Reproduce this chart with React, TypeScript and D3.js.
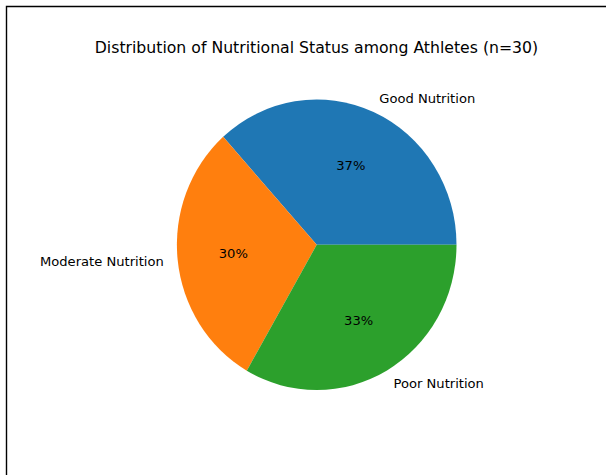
import React from "react";
import * as d3 from "d3";

const categories = ["Good Nutrition", "Moderate Nutrition", "Poor Nutrition"];
const counts = [11, 9, 10];
const colors = ["#1f77b4", "#ff7f0e", "#2ca02c"];
const title = "Distribution of Nutritional Status among Athletes (n=30)";

const W = 606;
const H = 475;
const cx = 316.7;
const cy = 244.8;
const rx = 139.8;
const ry = 145.3;
const font = "'DejaVu Sans', sans-serif";

export default function App() {
  const total = d3.sum(counts);
  // matplotlib style: start at 3 o'clock, go counterclockwise
  const toRad = d3.scaleLinear().domain([0, total]).range([0, 2 * Math.PI]);

  let acc = 0;
  const slices = counts.map((v, i) => {
    const a0 = toRad(acc);
    acc += v;
    const a1 = toRad(acc);
    return { v, i, a0, a1, mid: (a0 + a1) / 2 };
  });

  // d3 angles run clockwise from 12 o'clock, so flip them
  const arcGen = d3.arc<{ a0: number; a1: number }>()
    .innerRadius(0)
    .outerRadius(rx)
    .startAngle((d) => Math.PI / 2 - d.a1)
    .endAngle((d) => Math.PI / 2 - d.a0);

  const pos = (ang: number, f: number) => [
    cx + f * rx * Math.cos(ang),
    cy - f * ry * Math.sin(ang),
  ];

  return (
    <svg
      width={W}
      height={H}
      style={{ position: "absolute", left: 0, top: 0, background: "#fff" }}
    >
      <rect width={W} height={H} fill="#fff" />
      <path d={`M6.5,${H} V6.5 H${W}`} fill="none" stroke="#000" strokeWidth={1.4} />
      <text
        x={316.5}
        y={53}
        textAnchor="middle"
        fontFamily={font}
        fontSize={15.7}
        fill="#000"
      >
        {title}
      </text>
      <g transform={`translate(${cx},${cy}) scale(1,${ry / rx})`}>
        {slices.map((s) => (
          <path key={s.i} d={arcGen(s) ?? ""} fill={colors[s.i]} />
        ))}
      </g>
      {slices.map((s) => {
        const [lx, ly] = pos(s.mid, 1.1);
        const [px, py] = pos(s.mid, 0.6);
        const pct = Math.round((s.v / total) * 100) + "%";
        return (
          <g key={s.i} fontFamily={font} fontSize={13.1} fill="#000">
            <text
              x={lx}
              y={ly}
              textAnchor={Math.cos(s.mid) >= 0 ? "start" : "end"}
              dominantBaseline="central"
            >
              {categories[s.i]}
            </text>
            <text x={px} y={py} textAnchor="middle" dominantBaseline="central">
              {pct}
            </text>
          </g>
        );
      })}
    </svg>
  );
}
